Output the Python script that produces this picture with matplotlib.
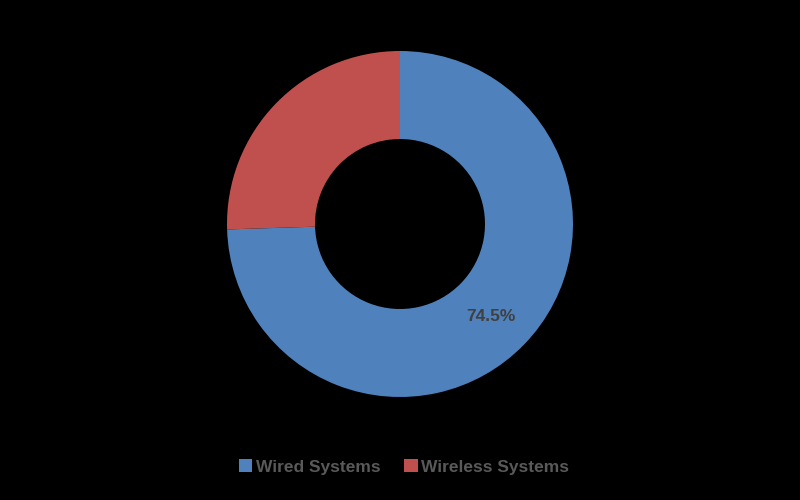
import numpy as np
import matplotlib.pyplot as plt

labels = ['Wired Systems', 'Wireless Systems']
shares = [74.5, 25.5]
colors = ['#4F81BD', '#C0504D']

plt.rcParams['font.family'] = ['Liberation Sans', 'DejaVu Sans']

fig = plt.figure(figsize=(8, 5), dpi=100, facecolor='black')
ax = fig.add_axes([0, 0, 1, 1])
ax.set_facecolor('black')

wedges, texts = ax.pie(
    shares, colors=colors, center=(400, 276), radius=173,
    startangle=90, counterclock=False,
    wedgeprops=dict(width=88, linewidth=0),
)

# percentage label in the middle of the ring of the big slice
mid = np.deg2rad(90 - shares[0] / 100 * 360 / 2)
r_mid = 173 - 88 / 2
ax.text(400 + r_mid * np.cos(mid) - 2, 276 + r_mid * np.sin(mid) - 3,
        '%.1f%%' % shares[0], ha='center', va='center',
        color='#404040', fontsize=12.5, fontweight='bold')

ax.set_xlim(0, 800)
ax.set_ylim(0, 500)
ax.set_aspect('equal')
ax.axis('off')

leg = ax.legend(wedges, labels, loc='center', bbox_to_anchor=(0.505, 0.066),
                ncol=2, frameon=False, handlelength=0.8,
                handleheight=0.8, columnspacing=1.35, handletextpad=0.2,
                prop={'weight': 'bold', 'size': 12.5})
for t in leg.get_texts():
    t.set_color('#595959')

fig.savefig('out.png', dpi=100, facecolor='black')
